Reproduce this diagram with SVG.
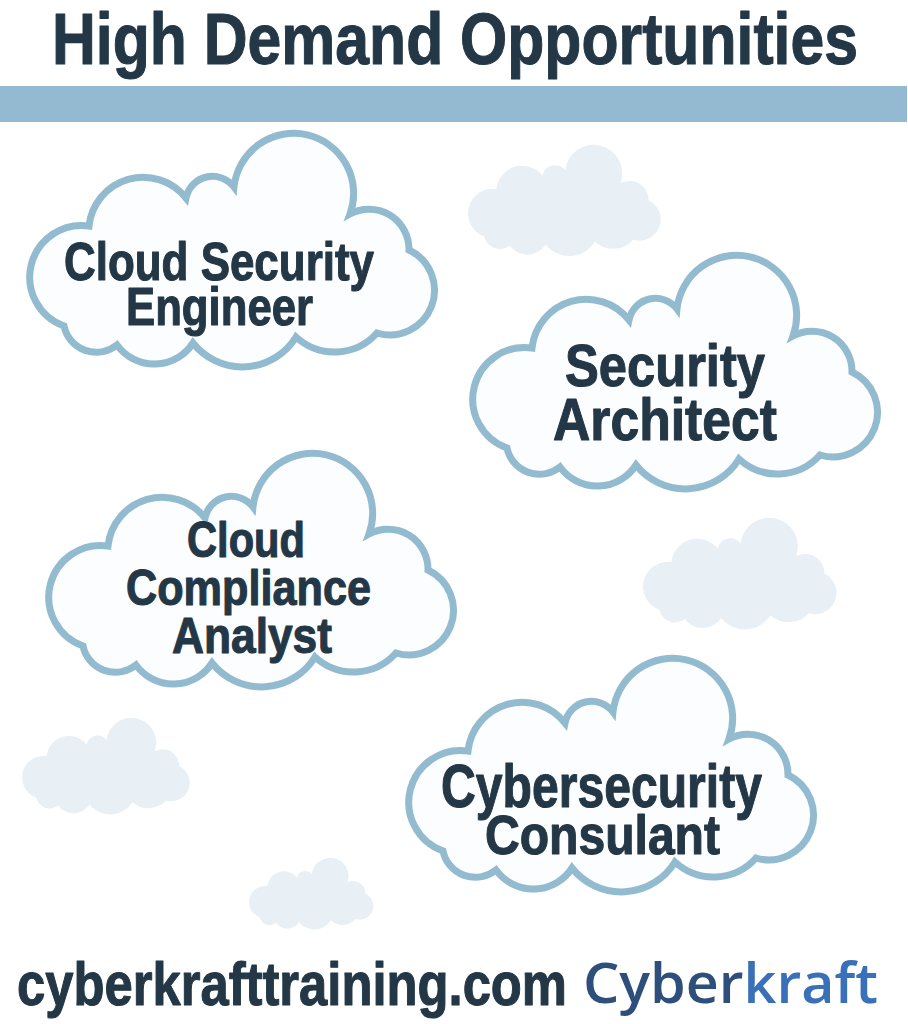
<svg xmlns="http://www.w3.org/2000/svg" xmlns:xlink="http://www.w3.org/1999/xlink" width="908" height="1024" viewBox="0 0 908 1024">
  <style>
    .t { font-family: "Liberation Sans", Arial, sans-serif; font-weight: bold; fill: #233746; stroke: #233746; stroke-width: 1.1; stroke-linejoin: round; }
    .big { fill: #fbfdff; stroke: #93bbd0; stroke-width: 7; stroke-linejoin: miter; }
    .small { fill: #e8f0f6; }
    .logo { font-family: "Open Sans", "Noto Sans", sans-serif; font-weight: 600; }
  </style>
  <defs>
    <path id="cloud" d="M 39 196 A 51.8 51.8 0 0 1 64 96 A 54.5 54.5 0 0 1 161 68 A 27 27 0 0 1 209 57 A 60 60 0 1 1 325 84 A 40 40 0 0 1 384 120 A 44.6 44.6 0 0 1 352 203 A 57 57 0 0 1 271 207 A 63 63 0 0 1 168 213 A 46 46 0 0 1 92 215 A 33 33 0 0 1 39 196 Z"/>
  </defs>
  <rect width="908" height="1024" fill="#ffffff"/>

  <g id="title">
    <text class="t" x="52" y="64" font-size="73" textLength="806" lengthAdjust="spacingAndGlyphs">High Demand Opportunities</text>
    <rect x="0" y="86" width="907" height="36" fill="#93bad0"/>
  </g>

  <g id="background-clouds">
    <use xlink:href="#cloud" class="small" transform="translate(465.8,143.2) scale(0.476)"/>
    <use xlink:href="#cloud" class="small" transform="translate(640.8,516.2) scale(0.478)"/>
    <use xlink:href="#cloud" class="small" transform="translate(20.1,716.4) scale(0.414)"/>
    <use xlink:href="#cloud" class="small" transform="translate(247.6,856.8) scale(0.307)"/>
  </g>

  <g id="connectors"></g>

  <g id="cloud-security-engineer">
    <use xlink:href="#cloud" class="big" transform="translate(25,130)"/>
    <text class="t" x="64" y="280" font-size="53" textLength="310" lengthAdjust="spacingAndGlyphs">Cloud Security</text>
    <text class="t" x="126" y="325" font-size="53" textLength="187" lengthAdjust="spacingAndGlyphs">Engineer</text>
  </g>

  <g id="security-architect">
    <use xlink:href="#cloud" class="big" transform="translate(468,252)"/>
    <text class="t" x="565" y="386" font-size="60" textLength="200" lengthAdjust="spacingAndGlyphs">Security</text>
    <text class="t" x="553" y="440" font-size="60" textLength="224" lengthAdjust="spacingAndGlyphs">Architect</text>
  </g>

  <g id="cloud-compliance-analyst">
    <use xlink:href="#cloud" class="big" transform="translate(44,450)"/>
    <text class="t" x="187" y="557" font-size="50" textLength="118" lengthAdjust="spacingAndGlyphs">Cloud</text>
    <text class="t" x="126" y="605" font-size="50" textLength="245" lengthAdjust="spacingAndGlyphs">Compliance</text>
    <text class="t" x="172" y="653" font-size="50" textLength="160" lengthAdjust="spacingAndGlyphs">Analyst</text>
  </g>

  <g id="cybersecurity-consultant">
    <use xlink:href="#cloud" class="big" transform="translate(404,655)"/>
    <text class="t" x="441" y="807" font-size="61" textLength="321" lengthAdjust="spacingAndGlyphs">Cybersecurity</text>
    <text class="t" x="485" y="854" font-size="55" textLength="235" lengthAdjust="spacingAndGlyphs">Consulant</text>
  </g>

  <g id="footer">
    <text class="t" x="17" y="1005" font-size="61" textLength="550" lengthAdjust="spacingAndGlyphs">cyberkrafttraining.com</text>
    <text class="logo" x="583" y="1003" font-size="56" textLength="295" lengthAdjust="spacingAndGlyphs"><tspan fill="#2e4e7b">Cyber</tspan><tspan fill="#3a70b8">kraft</tspan></text>
  </g>
</svg>
